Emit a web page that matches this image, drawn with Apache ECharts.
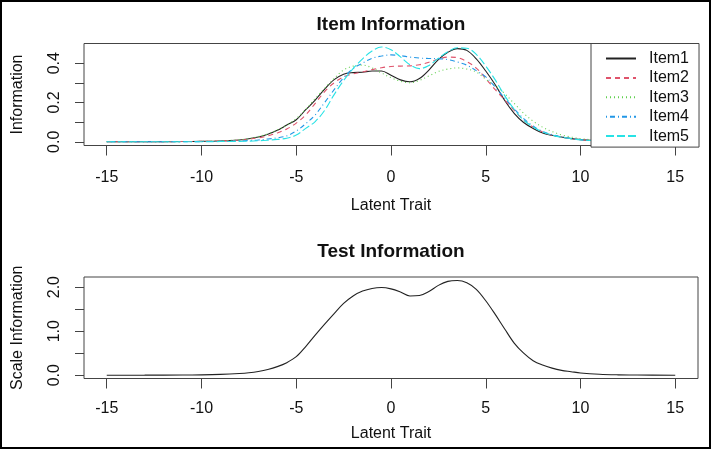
<!DOCTYPE html>
<html><head><meta charset="utf-8">
<script src="https://cdn.jsdelivr.net/npm/echarts@6/dist/echarts.min.js"></script>
<style>html,body{margin:0;padding:0;background:#fff}#c{width:712px;height:450px}</style>
</head><body><div id="c"></div>
<script>
// Latent trait grid (x values)
const theta = [-15,-13,-11,-10,-9,-8,-7.5,-7,-6.5,-6,-5.5,-5,-4.5,-4,-3.5,-3,-2.5,-2,-1.5,-1,-0.5,0,0.5,1,1.5,2,2.5,3,3.5,4,4.5,5,5.5,6,6.5,7,7.5,8,8.5,9,9.5,10,11,12,13,15];
const item1 = [0,0,0.001,0.002,0.004, 0.009,0.015,0.024,0.038,0.058, 0.085,0.112,0.163,0.212,0.268, 0.316,0.344,0.352,0.354,0.360, 0.360,0.338,0.315,0.305,0.322, 0.365,0.418,0.455,0.474,0.465, 0.422,0.360,0.290,0.210,0.145, 0.098,0.068,0.045,0.033,0.024, 0.016,0.011,0.005,0.002,0.001, 0];
const item2 = [0,0,0.001,0.002,0.004, 0.008,0.013,0.020,0.030,0.045, 0.065,0.095,0.137,0.195,0.255, 0.300,0.330,0.345,0.355,0.367, 0.377,0.383,0.385,0.386,0.392, 0.405,0.420,0.431,0.428,0.408, 0.375,0.322,0.265,0.213,0.160, 0.110,0.075,0.050,0.034,0.024, 0.016,0.011,0.005,0.002,0.001, 0];
const item3 = [0,0,0.001,0.002,0.005, 0.010,0.016,0.026,0.040,0.060, 0.085,0.118,0.165,0.220,0.272, 0.322,0.365,0.385,0.390,0.376, 0.350,0.326,0.308,0.300,0.312, 0.335,0.358,0.370,0.376,0.370, 0.355,0.318,0.285,0.245,0.195, 0.145,0.105,0.074,0.052,0.035, 0.024,0.016,0.007,0.003,0.001, 0];
const item4 = [0,0,0,0.001,0.002, 0.004,0.006,0.009,0.014,0.020, 0.030,0.055,0.092,0.137,0.200, 0.265,0.326,0.372,0.400,0.425, 0.436,0.442,0.438,0.431,0.426, 0.424,0.423,0.418,0.406,0.390, 0.362,0.330,0.278,0.222,0.168, 0.118,0.080,0.052,0.036,0.025, 0.017,0.011,0.005,0.002,0.001, 0];
const item5 = [0,0,0,0,0.001, 0.002,0.003,0.005,0.008,0.012, 0.018,0.034,0.068,0.103,0.160, 0.240,0.312,0.372,0.422,0.462, 0.482,0.468,0.432,0.392,0.372, 0.388,0.425,0.458,0.478,0.476, 0.445,0.385,0.315,0.235,0.165, 0.110,0.075,0.050,0.034,0.023, 0.016,0.010,0.004,0.002,0.001, 0];
const testInfo = [0,0.001,0.004,0.008,0.018, 0.038,0.055,0.085,0.13,0.195, 0.285,0.42,0.65,0.91,1.16, 1.40,1.63,1.80,1.91,1.97, 1.99,1.96,1.89,1.80,1.81, 1.90,2.04,2.13,2.15,2.10, 1.95,1.69,1.38,1.05,0.73, 0.50,0.33,0.23,0.16,0.11, 0.08,0.05,0.02,0.008,0.004, 0];

const itemNames = ['Item1','Item2','Item3','Item4','Item5'];
const itemColors = ['#222222','#DF536B','#61D04F','#2297E6','#28E2E5'];
const itemDash = ['solid',[5,4],[1,3],[1,3,5,3],[8,3]];
const xTicks = [-15,-10,-5,0,5,10,15];
const yTicksTop = [0,0.1,0.2,0.3,0.4];
const yLabelsTop = [0,0.2,0.4];
const yTicksBottom = [0,0.5,1,1.5,2];
const yLabelsBottom = [0,1,2];

const FONT = 'Liberation Sans, Arial, Helvetica, sans-serif';
const itemData = [item1,item2,item3,item4,item5];

function xAxisDef(gridIndex, labelMargin, nameGap){
  return {
    type:'value', gridIndex, min:-16.2, max:16.2,
    axisLine:{show:false, onZero:false},
    splitLine:{show:false},
    axisTick:{show:true, length:10, customValues:xTicks, lineStyle:{color:'#444', width:1}},
    axisLabel:{customValues:xTicks, margin:labelMargin, fontSize:16, color:'#111', fontFamily:FONT},
    name:'Latent Trait', nameLocation:'middle', nameGap,
    nameTextStyle:{fontSize:16, color:'#111', fontFamily:FONT}
  };
}
function yAxisDef(gridIndex, min, max, ticks, labels, name){
  return {
    type:'value', gridIndex, min, max,
    axisLine:{show:false, onZero:false},
    splitLine:{show:false},
    axisTick:{show:true, length:9, customValues:ticks, lineStyle:{color:'#444', width:1}},
    axisLabel:{customValues:labels, rotate:90, margin:21, fontSize:16, color:'#111', fontFamily:FONT,
      formatter:v=>Number(v).toFixed(1)},
    name, nameLocation:'middle', nameGap:58,
    nameTextStyle:{fontSize:16, color:'#111', fontFamily:FONT}
  };
}

const series = itemNames.map((n,i)=>({
  name:n, type:'line', xAxisIndex:0, yAxisIndex:0, symbol:'none', smooth:0.35,
  data: theta.map((t,k)=>[t,itemData[i][k]]),
  lineStyle:{color:itemColors[i], width:1.1, type:itemDash[i]},
  itemStyle:{color:itemColors[i]}, z:3
}));
series.push({
  name:'Test', type:'line', xAxisIndex:1, yAxisIndex:1, symbol:'none', smooth:0.35,
  data: theta.map((t,k)=>[t,testInfo[k]]),
  lineStyle:{color:'#222', width:1.1}, z:3
});

const chart = echarts.init(document.getElementById('c'), null, {renderer:'canvas'});
chart.setOption({
  animation:false,
  backgroundColor:'#fff',
  title:[
    {text:'Item Information', left:391, textAlign:'center', top:14, padding:0,
     textStyle:{fontSize:19, fontWeight:'bold', color:'#111', fontFamily:FONT, lineHeight:22}},
    {text:'Test Information', left:391, textAlign:'center', top:241, padding:0,
     textStyle:{fontSize:19, fontWeight:'bold', color:'#111', fontFamily:FONT, lineHeight:22}}
  ],
  grid:[
    {left:84, right:14, top:43.5, height:102, show:true, borderColor:'#444', borderWidth:1, backgroundColor:'transparent'},
    {left:84, right:14, top:277, height:101.5, show:true, borderColor:'#444', borderWidth:1, backgroundColor:'transparent'}
  ],
  xAxis:[xAxisDef(0,24,52), xAxisDef(1,22,47)],
  yAxis:[
    yAxisDef(0,-0.019,0.50,yTicksTop,yLabelsTop,'Information'),
    yAxisDef(1,-0.075,2.23,yTicksBottom,yLabelsBottom,'Scale Information')
  ],
  legend:{
    data:itemNames, orient:'vertical', left:591, top:43.5,
    backgroundColor:'#fff', borderColor:'#444', borderWidth:1,
    padding:[7,10,3,14], itemWidth:30, itemHeight:14, itemGap:3.4,
    itemStyle:{opacity:0},
    textStyle:{fontSize:16, color:'#111', fontFamily:FONT, lineHeight:16, padding:[0,0,0,8]},
    selectedMode:false
  },
  graphic:[{type:'rect', shape:{x:1, y:1, width:709, height:447}, style:{fill:'none', stroke:'#000', lineWidth:2}, z:100}],
  series
});
</script></body></html>
